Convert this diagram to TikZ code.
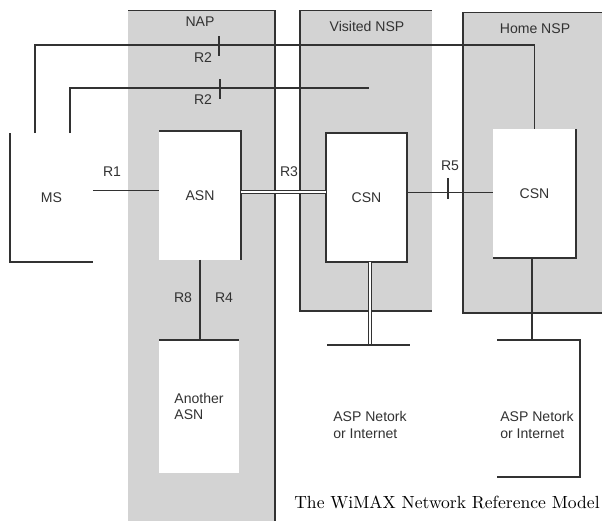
\documentclass[tikz,border=0pt]{standalone}
\usepackage{fontspec}
\setsansfont{Liberation Sans}
\usetikzlibrary{positioning}
\definecolor{panelgray}{RGB}{211,211,211}
\definecolor{linegray}{RGB}{50,50,50}
\tikzset{
  panel/.style={fill=panelgray, inner sep=0pt, outer sep=0pt},
  unit/.style={fill=white, inner sep=0pt, outer sep=0pt, font=\sffamily\fontsize{8}{9.5}\selectfont, text=linegray},
  lbl/.style={font=\sffamily\fontsize{8}{9.5}\selectfont, text=linegray, inner sep=1pt},
  wire/.style={draw=linegray, line width=0.6pt},
}
\begin{document}
\begin{tikzpicture}[x=0.02cm, y=-0.02cm]
\useasboundingbox (0,0) rectangle (602,521);
\node[panel, minimum width=2.94cm, minimum height=10.22cm] (nap) at (201.5,265.5) {};
\node[panel, minimum width=2.64cm, minimum height=6.02cm] (vnsp) at (366,160.5) {};
\node[panel, minimum width=2.86cm, minimum height=6.02cm] (hnsp) at (534.5,162.5) {};
\draw[wire] (nap.north west) -- (nap.north east) -- (nap.south east);
\draw[wire] (vnsp.north east) -- (vnsp.north west) -- (vnsp.south west) -- (vnsp.south east);
\draw[wire] (hnsp.north east) -- (hnsp.north west) -- (hnsp.south west) -- (hnsp.south east);
\node[lbl] (naplbl) at (200,22) {NAP};
\node[lbl] (vnsplbl) at (367,26) {Visited NSP};
\node[lbl] (hnsplbl) at (535,29) {Home NSP};
\node[lbl, minimum width=1.66cm, minimum height=2.58cm, inner sep=0pt, outer sep=0pt] (ms) at (51.5,197.5) {MS};
\node[unit, minimum width=1.64cm, minimum height=2.58cm] (asn) at (200,195.5) {ASN};
\node[unit, minimum width=1.62cm, minimum height=2.58cm] (vcsn) at (366.5,197.5) {CSN};
\node[unit, minimum width=1.66cm, minimum height=2.58cm] (hcsn) at (534.5,193.5) {CSN};
\node[unit, minimum width=1.60cm, minimum height=2.66cm, align=left] (another) at (199,406.5) {Another\\ASN};
\draw[wire] (ms.north west) -- (ms.south west) -- (ms.south east);
\draw[wire] (asn.north west) -- (asn.north east) -- (asn.south east);
\draw[wire] (vcsn.north west) rectangle (vcsn.south east);
\draw[wire] (hcsn.north east) -- (hcsn.south east) -- (hcsn.south west);
\draw[wire] (another.north west) -- (another.north east);
\draw[wire] (35,0 |- ms.north) -- (35,45) -| (hcsn.north);
\coordinate (r2end) at (369,88);
\draw[wire] (70,0 |- ms.north) -- (70,88) -- (r2end);
\draw[wire] (219,36) -- (219,56);
\draw[wire] (220,79) -- (220,99);
\node[lbl] (r2a) at (203,58) {R2};
\node[lbl] (r2b) at (203,100) {R2};
\draw[wire] ([yshift=4pt]ms.east) -- ([yshift=4pt]ms.east -| asn.west);
\node[lbl] (r1) at (112,172) {R1};
\draw[wire, double, double distance=1.2pt] ([yshift=2pt]asn.east) -- ([yshift=2pt]asn.east -| vcsn.west);
\node[lbl] (r3) at (289,172) {R3};
\draw[wire] ([yshift=3pt]vcsn.east) -- ([yshift=3pt]vcsn.east -| hcsn.west);
\draw[wire] (448,178) -- (448,199);
\node[lbl] (r5) at (450,166) {R5};
\draw[wire] (asn.south) -- (asn.south |- another.north);
\node[lbl] (r8) at (183,298) {R8};
\node[lbl] (r4) at (224,298) {R4};
\coordinate (vbus) at (370,345);
\draw[wire, double, double distance=1.2pt] (vcsn.south -| vbus) -- (vbus);
\draw[wire] (327,345) -- (410,345);
\coordinate (hbus) at (532,340);
\draw[wire] (hcsn.south -| hbus) -- (hbus);
\draw[wire] (497,340) -- (580,340) -- (580,477) -- (497,477);
\node[lbl, align=left] (aspv) at (370,425) {ASP Netork\\or Internet};
\node[lbl, align=left] (asph) at (537,425) {ASP Netork\\or Internet};
\node[font=\fontsize{10}{12}\selectfont, inner sep=0pt, anchor=east] (caption) at (600,502) {The WiMAX Network Reference Model};
\end{tikzpicture}
\end{document}
